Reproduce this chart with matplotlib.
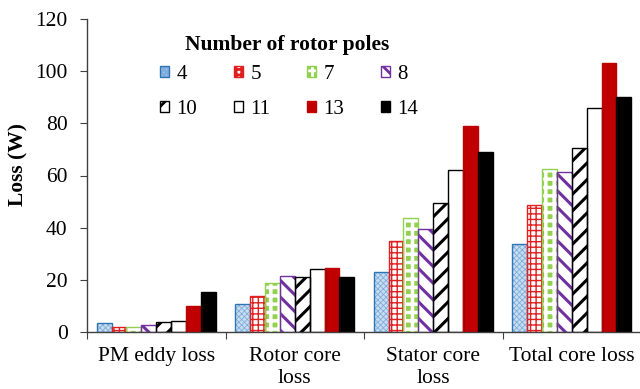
import matplotlib
matplotlib.use("Agg")
import matplotlib.pyplot as plt
import numpy as np
from matplotlib.legend_handler import HandlerTuple

categories = ["PM eddy loss", "Rotor core\nloss", "Stator core\nloss", "Total core loss"]
poles = ["4", "5", "7", "8", "10", "11", "13", "14"]
loss_4 = [3.4, 10.9, 22.9, 33.9]
loss_5 = [1.9, 13.8, 34.8, 48.6]
loss_7 = [1.9, 18.8, 43.8, 62.6]
loss_8 = [2.7, 21.6, 39.5, 61.2]
loss_10 = [3.7, 21.2, 49.3, 70.7]
loss_11 = [4.1, 24.0, 62.0, 86.0]
loss_13 = [9.8, 24.4, 79.0, 103.3]
loss_14 = [15.3, 20.9, 69.0, 90.0]
series = [loss_4, loss_5, loss_7, loss_8, loss_10, loss_11, loss_13, loss_14]
yticks = [0, 20, 40, 60, 80, 100, 120]

# (face, hatch, hatch color, edge color, hatch linewidth)
styles = [
    ("#C9DDF0", "xxxxxx", "#7FAEDC", "#2E75B6", 0.6),
    ("white", "+++", "#E02020", "#E02020", 1.0),
    ("#92D050", "++", "white", "#92D050", 2.5),
    ("white", "\\\\", "#7030A0", "#7030A0", 2.2),
    ("white", "//", "black", "black", 2.2),
    ("white", None, "white", "black", 1.0),
    ("#C00000", None, "#C00000", "#C00000", 1.0),
    ("black", None, "black", "black", 1.0),
]

plt.rcParams["font.family"] = ["Liberation Serif", "DejaVu Serif"]
plt.rcParams["font.size"] = 15.5
plt.rcParams["hatch.linewidth"] = 2.0

fig = plt.figure(figsize=(6.4, 3.89), dpi=100)
ax = fig.add_axes([87 / 640, 1 - 332 / 389, 554 / 640, (332 - 19) / 389])

x = np.arange(len(categories))
n = len(series)
w = 0.1076
handles = []
for i, (vals, (fc, h, hc, ec, hlw)) in enumerate(zip(series, styles)):
    pos = x + (i - (n - 1) / 2) * w
    with plt.rc_context({"hatch.linewidth": hlw}):
        b1 = ax.bar(pos, vals, w, color=fc, hatch=h, edgecolor=hc, linewidth=0, zorder=2)
    for p in b1:
        if hasattr(p, "set_hatch_linewidth"):
            p.set_hatch_linewidth(hlw)
    b2 = ax.bar(pos, vals, w, facecolor="none", edgecolor=ec, linewidth=1.0, zorder=3)
    handles.append((b1[0], b2[0]))

ax.set_xlim(-0.5, 3.5)
ax.set_ylim(0, 120)
ax.set_yticks(yticks)
ax.set_xticks(np.arange(-0.5, 4.0, 1.0))
ax.set_xticklabels([])
ax.set_xticks(x, minor=True)
ax.set_xticklabels(categories, minor=True, linespacing=1.2)
ax.tick_params(axis="x", which="minor", length=0, pad=11)
ax.tick_params(axis="x", which="major", length=5, direction="out", color="#404040")
ax.tick_params(axis="y", length=5, direction="out", color="#404040", pad=9)
for s in ["top", "right"]:
    ax.spines[s].set_visible(False)
for s in ["left", "bottom"]:
    ax.spines[s].set_color("#404040")
    ax.spines[s].set_linewidth(1.0)

ax.set_ylabel("Loss (W)", fontweight="bold", fontsize=15.5)
ax.yaxis.set_label_coords(-0.105, 0.534)

fig.text(287.5 / 640, 1 - 45 / 389, "Number of rotor poles", ha="center", va="center",
         fontweight="bold", fontsize=15.5)

order = [0, 4, 1, 5, 2, 6, 3, 7]
leg = ax.legend([handles[k] for k in order], [poles[k] for k in order],
                handler_map={tuple: HandlerTuple(ndivide=1)},
                ncol=4, prop={"size": 15},
                frameon=False, handlelength=0.45, handleheight=0.45,
                handletextpad=0.35, columnspacing=1.75, labelspacing=0.75,
                loc="upper left", bbox_to_anchor=(160 / 640, 1 - 65 / 389),
                bbox_transform=fig.transFigure, borderpad=0, borderaxespad=0)

fig.savefig("out.png", dpi=100)
